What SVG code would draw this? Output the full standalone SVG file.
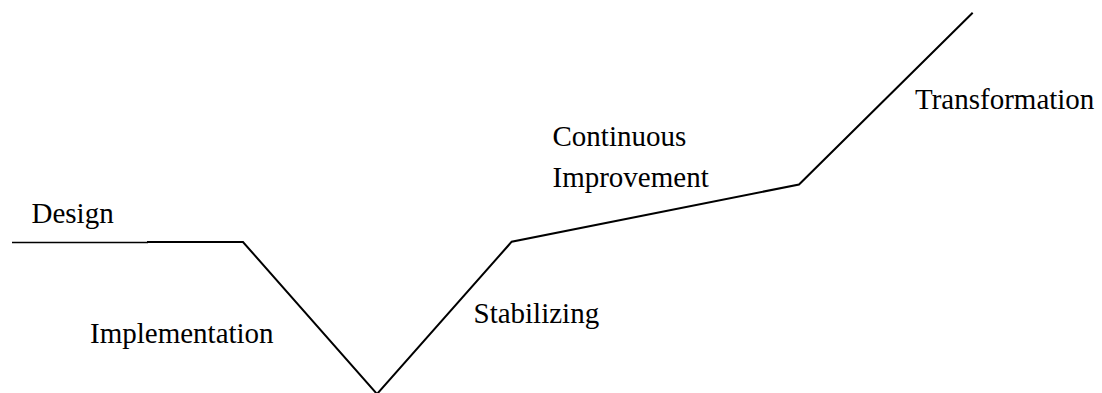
<svg xmlns="http://www.w3.org/2000/svg" width="1102" height="393" viewBox="0 0 1102 393">
<style>
.lbl{font-family:"Liberation Serif","Times New Roman",serif;font-size:29px;fill:#000;}
.ln{fill:none;stroke:#000;stroke-linejoin:miter;}
</style>
<rect width="1102" height="393" fill="#fff"/>
<g id="connectors">
<line class="ln" x1="12" y1="242.5" x2="148" y2="242.5" stroke-width="1.3"/>
<polyline class="ln" stroke-width="2" points="147,242 243,242 377,394 511.7,241.7 799,184.5 972.7,12.7"/>
</g>
<g id="design"><text class="lbl" x="31.5" y="222.5">Design</text></g>
<g id="implementation"><text class="lbl" x="90" y="342.5">Implementation</text></g>
<g id="stabilizing"><text class="lbl" x="473.5" y="322.5">Stabilizing</text></g>
<g id="continuous-improvement"><text class="lbl" x="552.5" y="146">Continuous</text><text class="lbl" x="552.5" y="186.5">Improvement</text></g>
<g id="transformation"><text class="lbl" x="915" y="109">Transformation</text></g>
</svg>
